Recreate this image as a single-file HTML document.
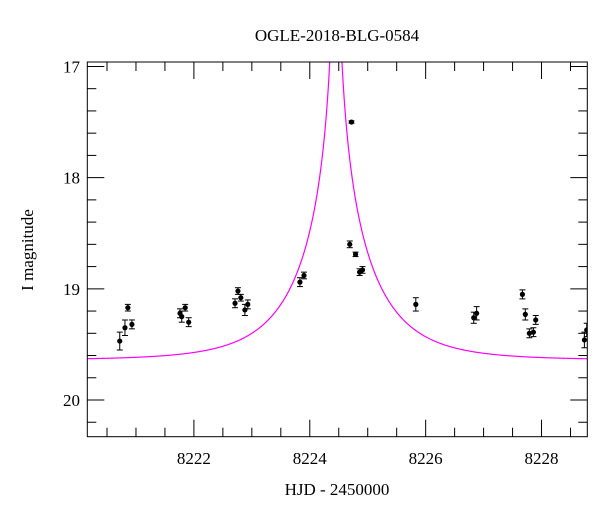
<!DOCTYPE html>
<html><head><meta charset="utf-8"><style>
body{margin:0;background:#fff;}
svg{display:block;font-family:"Liberation Serif",serif;}
</style></head><body>
<svg id="chart" width="600" height="512">
<text x="337" y="41" text-anchor="middle" font-size="17">OGLE-2018-BLG-0584</text>
<text x="337" y="495" text-anchor="middle" font-size="17">HJD - 2450000</text>
<text transform="translate(33,250) rotate(-90)" text-anchor="middle" font-size="17">I magnitude</text>
<g id="axes"></g>
<g id="curve"></g>
<g id="points"></g>
<rect x="87.3" y="62" width="500" height="374.7" fill="none" stroke="#000" stroke-width="1"/>
</svg>
<script>
const days=[8220.72,8220.81,8220.86,8220.93,8221.76,8221.79,8221.85,8221.91,8222.71,8222.76,8222.81,8222.88,8222.93,8223.83,8223.90,8224.69,8224.72,8224.79,8224.86,8224.91,8225.83,8226.83,8226.88,8227.67,8227.72,8227.79,8227.86,8227.90,8228.74,8228.78];
const mags=[19.47,19.35,19.17,19.32,19.22,19.25,19.17,19.30,19.13,19.02,19.08,19.19,19.14,18.94,18.88,18.60,17.50,18.69,18.85,18.83,19.14,19.26,19.22,19.05,19.23,19.40,19.39,19.28,19.46,19.37];
const errs=[0.08,0.07,0.03,0.04,0.04,0.05,0.03,0.04,0.04,0.03,0.03,0.05,0.04,0.04,0.03,0.03,0.01,0.02,0.03,0.03,0.06,0.05,0.06,0.04,0.05,0.04,0.04,0.04,0.07,0.06];
const xTicks=[8222,8224,8226,8228];
const yTicks=[17,18,19,20];
const model={t0:8224.45,tE:1.25,u0:0.01,base:19.64};
const L=87.3,R=587.3,T=62,B=436.7,xmin=8220.16,xmax=8228.79,ymin=16.96,ymax=20.33;
const X=d=>L+(d-xmin)/(xmax-xmin)*(R-L);
const Y=m=>T+(m-ymin)/(ymax-ymin)*(B-T);
const NS="http://www.w3.org/2000/svg";
function mk(tag,attrs,parent){const e=document.createElementNS(NS,tag);for(const k in attrs)e.setAttribute(k,attrs[k]);parent.appendChild(e);return e;}
const ax=document.getElementById('axes');
for(let d=Math.ceil(xmin*2)/2;d<=xmax;d+=0.5){
  const maj=Math.abs(d/2-Math.round(d/2))<1e-6;const len=maj?17:9;const x=X(d);
  const t1=mk('line',{x1:x,x2:x,y1:B,y2:B-len,stroke:'#000'},ax);
  
  
  const t2=mk('line',{x1:x,x2:x,y1:T,y2:T+len,stroke:'#000'},ax);
  
  
}
xTicks.forEach(v=>{const t=mk('text',{x:X(v),y:464,'text-anchor':'middle','font-size':'17'},ax);t.textContent=v;
  
  });
for(let m=17;m<=20.3;m+=0.2){
  const maj=Math.abs(m-Math.round(m))<1e-6;const len=maj?17:9;const y=Y(m);
  const t1=mk('line',{x1:L,x2:L+len,y1:y,y2:y,stroke:'#000'},ax);
  
  
  const t2=mk('line',{x1:R,x2:R-len,y1:y,y2:y,stroke:'#000'},ax);
  
  
}
yTicks.forEach(v=>{const t=mk('text',{x:80,y:Y(v)+6,'text-anchor':'end','font-size':'17'},ax);t.textContent=v;
  
  });
let pts=[];
for(let i=0;i<=2000;i++){const t=xmin+(xmax-xmin)*i/2000;const tau=(t-model.t0)/model.tE;const u=Math.sqrt(model.u0*model.u0+tau*tau);
  const A=(u*u+2)/(u*Math.sqrt(u*u+4));let m=model.base-2.5*Math.log10(A);if(m<ymin-0.5)m=ymin-0.5;pts.push(X(t).toFixed(2)+','+Y(m).toFixed(2));}
const cg=document.getElementById('curve');
mk('clipPath',{id:'clip'},cg).appendChild(document.createElementNS(NS,'rect'));
const cr=cg.querySelector('clipPath rect');cr.setAttribute('x',L);cr.setAttribute('y',T);cr.setAttribute('width',R-L);cr.setAttribute('height',B-T);
const pl=mk('polyline',{points:pts.join(' '),fill:'none',stroke:'#ff00ff','stroke-width':1.2,'clip-path':'url(#clip)'},cg);


const pg=document.getElementById('points');
days.forEach((d,i)=>{
  const g=mk('g',{'clip-path':'url(#clip)'},pg);
  
  
  const x=X(d),y1=Y(mags[i]-errs[i]),y2=Y(mags[i]+errs[i]);
  mk('line',{x1:x,x2:x,y1:y1,y2:y2,stroke:'#000'},g);
  mk('line',{x1:x-3,x2:x+3,y1:y1,y2:y1,stroke:'#000'},g);
  mk('line',{x1:x-3,x2:x+3,y1:y2,y2:y2,stroke:'#000'},g);
  mk('circle',{cx:x,cy:Y(mags[i]),r:2.6,fill:'#000'},g);
});
</script>
</body></html>
